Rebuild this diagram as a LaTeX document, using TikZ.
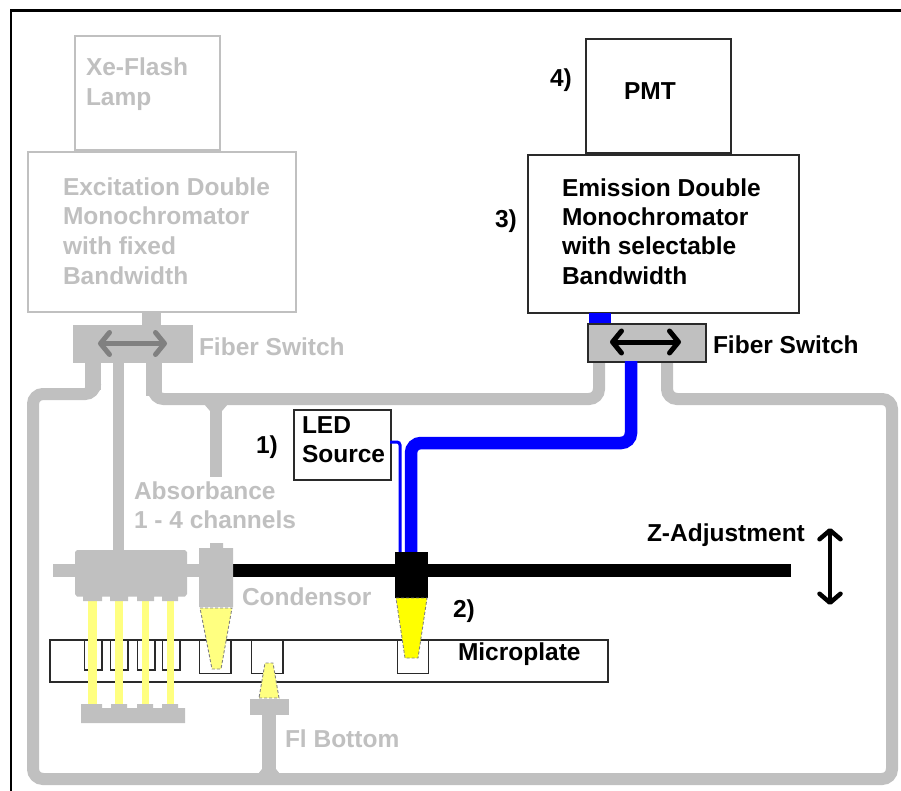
\documentclass[tikz,border=0pt]{standalone}
\usepackage{fontspec}
\setmainfont{Liberation Sans}
\usetikzlibrary{arrows.meta}
\definecolor{lg}{HTML}{C0C0C0}
\definecolor{dg}{HTML}{808080}
\definecolor{ln}{HTML}{2A2A2A}
\definecolor{py}{HTML}{FFFF80}
\definecolor{by}{HTML}{FFFF00}
\definecolor{bl}{HTML}{0000FF}
\newcommand{\fl}{\rule{0pt}{18pt}}
\tikzset{
  x=1pt,y=-1pt,
  lbl/.style={inner sep=0pt,outer sep=0pt,font=\bfseries\fontsize{24.5}{29.5}\selectfont,align=left},
  gtxt/.style={lbl,text=lg,anchor=north west},
  ktxt/.style={lbl,text=black,anchor=north west},
  gbox/.style={draw=lg,line width=1.7pt,anchor=north west,inner sep=0pt,fill=white},
  kbox/.style={draw=ln,line width=1.9pt,anchor=north west,inner sep=0pt,fill=white},
  gfib/.style={draw=lg,line width=12pt,rounded corners=10pt},
  bfib/.style={draw=bl,line width=12.5pt,rounded corners=10pt},
  swarrow/.style={line width=5pt,{Straight Barb[round,length=9pt,width=22pt]}-{Straight Barb[round,length=9pt,width=22pt]}},
  gsolid/.style={fill=lg,draw=none},
  well/.style={draw=ln,line width=1.8pt},
  beam/.style={fill=py,draw=none},
}
\begin{document}
\begin{tikzpicture}
\useasboundingbox (0,0) rectangle (901,791);
\fill[white] (0,0) rectangle (901,791);
% frame
\draw[black,line width=2.4pt] (901,10.5) -- (11,10.5) -- (11,791);
% coordinates
\coordinate (a1) at (95,385);
\coordinate (a2) at (95,394);
\coordinate (a3) at (33,394);
\coordinate (a4) at (33,779);
\coordinate (a5) at (892,779);
\coordinate (a6) at (892,399);
\coordinate (a7) at (667,399);
\coordinate (a8) at (667,361);
\coordinate (b1) at (153.5,385);
\coordinate (b2) at (153.5,399);
\coordinate (b3) at (599,399);
\coordinate (b4) at (599,361);
\coordinate (c1) at (216,399);
\coordinate (c2) at (216,477);
\coordinate (d1) at (269,715);
\coordinate (d2) at (269,779);
\coordinate (e1) at (118.5,363);
\coordinate (e2) at (118.5,552);
\coordinate (f1) at (631,361);
\coordinate (f2) at (631,443);
\coordinate (f3) at (411,443);
\coordinate (f4) at (411,552);
\coordinate (g1) at (390,442);
\coordinate (g2) at (400,442);
\coordinate (g3) at (400,552);
\coordinate (s1) at (93,363);
\coordinate (s2) at (93,390);
\coordinate (s3) at (153.5,363);
\coordinate (s4) at (153.5,396);
% grey fibres
\draw[lg,line width=16pt] (s1) -- (s2);
\draw[lg,line width=16pt] (s3) -- (s4);
\draw[gfib] (a1) -- (a2) -- (a3) -- (a4) -- (a5) -- (a6) -- (a7) -- (a8);
\draw[gfib] (b1) -- (b2) -- (b3) -- (b4);
\draw[gfib] (c1) -- (c2);
\fill[lg] (204,404) -- (228,404) -- (222,411) -- (210,411) -- cycle;
\draw[lg,line width=14pt] (d1) -- (d2);
\fill[lg] (258,774) -- (262,769) -- (276,769) -- (280,774) -- cycle;
\draw[lg,line width=11pt] (e1) -- (e2);
% boxes
\node[gbox,minimum width=145pt,minimum height=114pt] (xe) at (74,35) {};
\node[gbox,minimum width=268pt,minimum height=160pt] (exc) at (27,151) {};
\node[gsolid,anchor=north west,minimum width=120pt,minimum height=38pt,inner sep=0pt] (sw1) at (73,325) {};
\draw[lg,line width=19pt] (151.5,312) -- (151.5,325);
\draw[dg,swarrow] (98,343.5) -- (167,343.5);
\node[kbox,minimum width=145pt,minimum height=114pt] (pmt) at (585,38) {};
\node[kbox,minimum width=271pt,minimum height=158pt] (em) at (527,154) {};
\draw[bl,line width=22pt] (600,313) -- (600,323);
\node[kbox,fill=lg,minimum width=118pt,minimum height=38pt] (sw2) at (587,323) {};
\draw[black,swarrow] (610,342) -- (681,342);
\node[kbox,line width=1.6pt,minimum width=97pt,minimum height=70pt] (led) at (293,409) {};
% blue fibres
\draw[bfib] (f1) -- (f2) -- (f3) -- (f4);
\draw[bl,line width=3pt,rounded corners=3pt] (g1) -- (g2) -- (g3);
% microplate
\node[draw=ln,line width=1.8pt,anchor=north west,inner sep=0pt,minimum width=558pt,minimum height=42pt] (plate) at (49,639) {};
\draw[well] (84.5,639) |- (102,670) -- (102,639);
\draw[well] (110.5,639) |- (128,670) -- (128,639);
\draw[well] (137.5,639) |- (155,670) -- (155,639);
\draw[well] (162.5,639) |- (180,670) -- (180,639);
\draw[well] (199.5,639) |- (231,673.5) -- (231,639);
\draw[well] (251.5,639) |- (283,673.5) -- (283,639);
\draw[well] (397.5,639) |- (428.5,673.5) -- (428.5,639);
% beams
\fill[beam] (88,601) rectangle (97,704);
\fill[beam] (115,601) rectangle (123,704);
\fill[beam] (142,601) rectangle (149,704);
\fill[beam] (167,601) rectangle (174,704);
% rails
\fill[black] (233,564) rectangle (791,577);
\node[fill=black,anchor=north west,inner sep=0pt,minimum width=33pt,minimum height=46pt] (head2) at (395,552) {};
% grey head 4-channel
\fill[lg] (53,564) rectangle (199,577);
\fill[lg] (75,552) -- (77,550) -- (185,550) -- (187,552) -- (187,594) -- (185,596.5) -- (178,596.5) -- (178,601) -- (162,601) -- (162,596.5) -- (154,596.5) -- (154,601) -- (137,601) -- (137,596.5) -- (128,596.5) -- (128,601) -- (110,601) -- (110,596.5) -- (102,596.5) -- (102,601) -- (83,601) -- (83,596.5) -- (77,596.5) -- (75,594) -- cycle;
% grey head absorbance
\fill[lg] (210,543) -- (223,543) -- (223,548) -- (233,548) -- (233,607) -- (199,607) -- (199,548) -- (210,548) -- cycle;
% lower detector bar
\fill[lg] (81,723) -- (81,708) -- (81,704) -- (102,704) -- (102,708) -- (111,708) -- (111,704) -- (127,704) -- (127,708) -- (137,708) -- (137,704) -- (153,704) -- (153,708) -- (162,708) -- (162,704) -- (178,704) -- (178,708) -- (185,708) -- (185,723) -- cycle;
% FI block
\node[gsolid,anchor=north west,minimum width=39pt,minimum height=16pt,inner sep=0pt] (fi) at (250,699) {};
% cones
\filldraw[fill=py,draw=dg,line width=0.9pt,dash pattern=on 3pt off 2pt] (200,608) -- (232,608) -- (221,669) -- (212,669) -- cycle;
\filldraw[fill=py,draw=dg,line width=0.9pt,dash pattern=on 3pt off 2pt] (259,698) -- (279,698) -- (273,663) -- (265,663) -- cycle;
\filldraw[fill=by,draw=dg,line width=0.9pt,dash pattern=on 3pt off 2pt] (396,598) -- (427,598) -- (418,658) -- (405,658) -- cycle;
% Z arrow
\draw[black,line width=4.5pt,{Straight Barb[round,length=9pt,width=21pt]}-{Straight Barb[round,length=9pt,width=21pt]}] (830,528) -- (830,605);
% grey text
\node[gtxt] (t1) at (86,58) {\fl Xe-Flash\\Lamp};
\node[gtxt] (t2) at (63,177.5) {\fl Excitation Double\\Monochromator\\with fixed\\Bandwidth};
\node[gtxt] (t3) at (199,337) {\fl Fiber Switch};
\node[gtxt] (t4) at (134,481) {\fl Absorbance\\1 - 4 channels};
\node[gtxt] (t5) at (242,587) {\fl Condensor};
\node[gtxt] (t6) at (285,729) {\fl Fl Bottom};
% black text
\node[ktxt] (t7) at (624,82) {\fl PMT};
\node[ktxt] (t8) at (562,178) {\fl Emission Double\\Monochromator\\with selectable\\Bandwidth};
\node[ktxt] (t9) at (713,335) {\fl Fiber Switch};
\node[ktxt] (t10) at (302,415) {\fl LED\\Source};
\node[ktxt] (t11) at (647,523) {\fl Z-Adjustment};
\node[ktxt] (t12) at (458,642) {\fl Microplate};
\node[ktxt] (n1) at (256,435) {\fl 1)};
\node[ktxt] (n2) at (453,599) {\fl 2)};
\node[ktxt] (n3) at (495,210) {\fl 3)};
\node[ktxt] (n4) at (550,69) {\fl 4)};
\end{tikzpicture}
\end{document}
